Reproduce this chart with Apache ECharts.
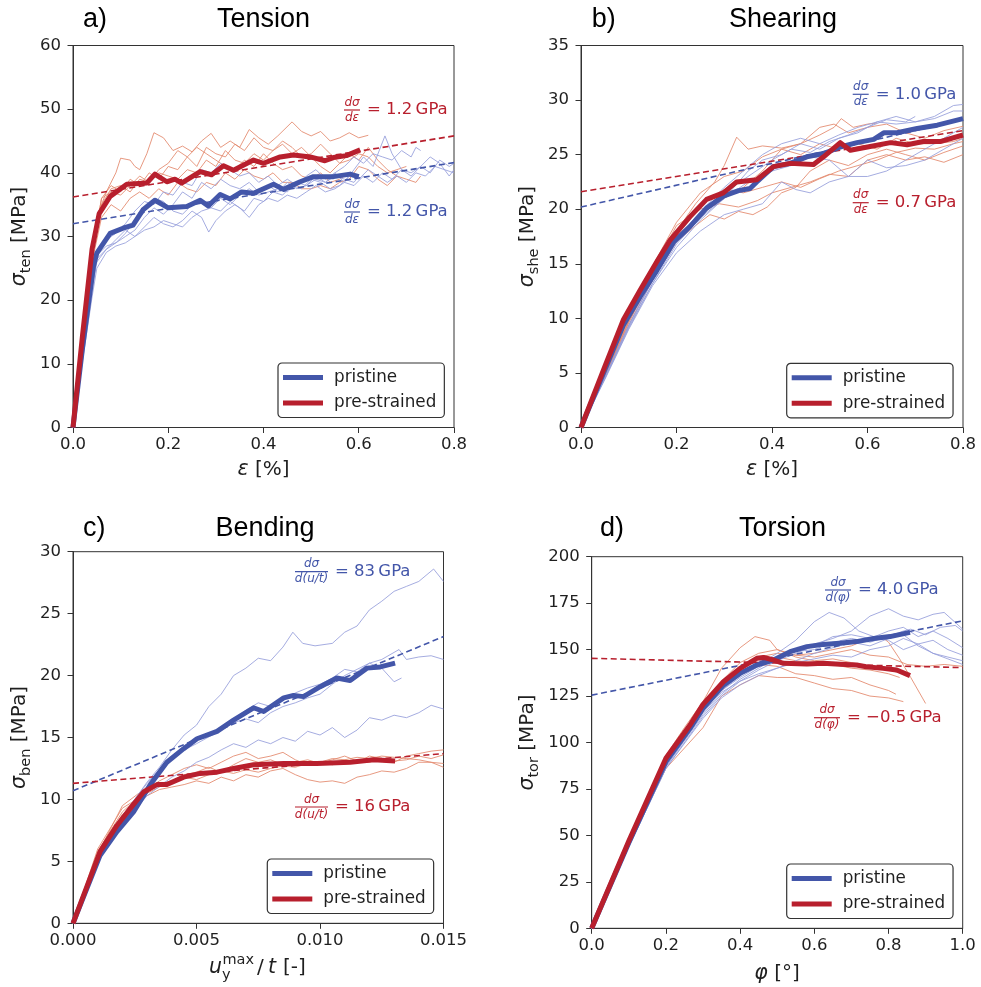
<!DOCTYPE html>
<html>
<head>
<meta charset="utf-8">
<script src="https://cdn.jsdelivr.net/npm/echarts@6/dist/echarts.min.js"></script>
<style>
html, body { margin: 0; padding: 0; background: #fff; }
#chart { width: 981px; height: 987px; }
</style>
</head>
<body>
<div id="chart"></div>
<script>
// ---------- measured curves: [abscissa, stress in MPa] ----------

// a) Tension, strain in %
const tensionPristineRuns = [
  [[0,0],[0.02,12],[0.04,23],[0.05,27.5],[0.07,29.5],[0.09,30.5],[0.11,32],[0.13,34],[0.15,35.5],[0.17,35],[0.19,37],[0.21,36.5],[0.23,38.5],[0.25,38],[0.27,40.5],[0.29,40],[0.31,41.5],[0.33,40.5],[0.35,39.5],[0.37,40],[0.39,38.5],[0.41,39.5],[0.43,38],[0.45,39],[0.47,38],[0.49,39.5],[0.51,40.5],[0.53,39],[0.55,40],[0.57,38.5],[0.59,40.5],[0.61,42.5],[0.63,41],[0.655,45.8],[0.67,43],[0.69,40.5],[0.71,39.5],[0.73,41],[0.75,40],[0.77,42],[0.79,41],[0.8,41.5]],
  [[0,0],[0.02,11.5],[0.04,22.5],[0.05,27],[0.07,28.5],[0.09,29],[0.11,30],[0.13,31],[0.15,33],[0.17,34.5],[0.19,33.5],[0.21,35],[0.23,37],[0.25,36],[0.27,38.5],[0.29,37.5],[0.31,39],[0.33,38],[0.35,37.5],[0.37,38.5],[0.39,37],[0.41,38],[0.43,37],[0.45,38.5],[0.47,37.5],[0.49,38],[0.51,39.5],[0.53,38.5],[0.55,40],[0.57,41],[0.59,42.5],[0.61,41.5],[0.63,43],[0.65,42.5],[0.67,42],[0.69,43.5],[0.71,42.5],[0.72,44],[0.73,43.5]],
  [[0,0],[0.02,11],[0.04,21.5],[0.05,26],[0.07,28],[0.09,29.5],[0.11,31],[0.13,30],[0.15,31.5],[0.17,33],[0.19,32],[0.21,31.5],[0.23,32.5],[0.25,34],[0.27,33],[0.285,30.7],[0.3,32.5],[0.32,34],[0.34,35],[0.36,34],[0.38,36],[0.4,35.5],[0.42,37],[0.44,36.5],[0.46,38],[0.48,37.5],[0.5,39],[0.52,38.5],[0.54,37.5],[0.56,38],[0.58,39.5],[0.6,39],[0.62,40.5],[0.64,39.5],[0.66,38.5],[0.68,39.5],[0.7,38.5],[0.72,40],[0.74,39.5],[0.76,41],[0.78,40.5],[0.8,40]],
  [[0,0],[0.02,10.5],[0.04,20.5],[0.05,25],[0.07,27.5],[0.09,28.5],[0.11,29],[0.13,30],[0.15,31],[0.17,31.5],[0.19,32.5],[0.21,32],[0.23,31.5],[0.25,33],[0.27,34],[0.29,34.5],[0.31,34],[0.33,35.5],[0.35,34.5],[0.37,33],[0.39,35],[0.41,36],[0.43,35.5],[0.45,36.5],[0.47,36],[0.49,37],[0.51,38],[0.53,37],[0.55,37.5],[0.57,38.5],[0.59,38],[0.61,39.5],[0.63,38.5],[0.65,40],[0.67,39],[0.69,40.5],[0.71,40],[0.73,41],[0.75,42.5],[0.77,41.5],[0.79,39.5],[0.8,40.5]],
  [[0,0],[0.02,11],[0.04,22],[0.05,26.5],[0.07,28],[0.09,29],[0.11,30.5],[0.13,32.5],[0.15,34],[0.17,36],[0.19,35.5],[0.21,34],[0.23,33.5],[0.25,35],[0.27,35.5],[0.29,34.5],[0.31,36],[0.33,35],[0.35,36.5],[0.37,37.5],[0.39,36.5],[0.41,37],[0.43,37.5],[0.45,37],[0.47,38.5],[0.49,38],[0.51,39],[0.53,38.5],[0.55,39.5],[0.57,39],[0.59,38.5],[0.6,39.5]]
];
const tensionPrestrainedRuns = [
  [[0,0],[0.02,14],[0.04,27],[0.05,33],[0.07,37],[0.09,40],[0.1,42.3],[0.12,42],[0.13,41],[0.14,40.5],[0.155,43],[0.17,46.3],[0.19,45.5],[0.21,43.5],[0.23,44.2],[0.25,43.3],[0.27,45],[0.29,46.2],[0.31,44],[0.33,45],[0.35,44],[0.37,46.8],[0.39,45.5],[0.41,44.5],[0.43,45.8],[0.46,48],[0.48,46.5],[0.5,45.8],[0.52,46.5],[0.54,45],[0.56,45.5],[0.58,46.3],[0.6,45.5],[0.62,45.9]],
  [[0,0],[0.02,14],[0.04,27.5],[0.06,36],[0.08,38],[0.1,37],[0.12,39],[0.14,38],[0.16,40],[0.18,39],[0.2,41],[0.22,40.5],[0.24,42.5],[0.26,41],[0.28,44],[0.3,43],[0.32,42.5],[0.34,44.5],[0.36,43.5],[0.38,45.5],[0.4,44],[0.42,43.5],[0.44,45],[0.46,44],[0.48,42.5],[0.5,43],[0.52,44.5],[0.54,43],[0.56,41.5],[0.58,42],[0.6,43],[0.62,42.5],[0.64,41],[0.66,40],[0.68,40.5],[0.7,41]],
  [[0,0],[0.02,13.5],[0.04,26],[0.06,33],[0.08,35],[0.1,34],[0.12,36],[0.14,37],[0.16,36],[0.18,37.5],[0.2,36.5],[0.22,38.5],[0.24,37.5],[0.26,37],[0.28,38.5],[0.3,38],[0.32,40],[0.34,39],[0.36,40.5],[0.38,39.5],[0.4,39],[0.42,40],[0.44,38.5],[0.46,38.5],[0.48,37.5],[0.5,37.5],[0.52,38],[0.54,37.5],[0.56,38.5],[0.58,39],[0.6,41],[0.62,40.5],[0.64,39],[0.66,38],[0.68,39.5],[0.7,39],[0.72,38.5],[0.73,39.5]],
  [[0,0],[0.02,14],[0.04,27],[0.06,35],[0.08,37.5],[0.1,38],[0.12,37],[0.14,39],[0.16,38.5],[0.18,40],[0.2,39.5],[0.22,39],[0.24,40.5],[0.26,40],[0.28,42],[0.3,41],[0.32,43.5],[0.34,42],[0.36,41.5],[0.38,43],[0.4,42],[0.42,43.5],[0.44,44.5],[0.46,43],[0.48,44],[0.5,42.5],[0.52,41],[0.54,40],[0.56,41.5],[0.58,43],[0.6,42],[0.62,44],[0.64,42],[0.66,40.5],[0.68,39.5]],
  [[0,0],[0.02,14],[0.04,27.5],[0.06,36],[0.08,37],[0.1,36.5],[0.12,38],[0.14,39.5],[0.16,38.5],[0.18,40.5],[0.2,41.5],[0.22,43.5],[0.24,42.5],[0.26,44],[0.28,43],[0.3,42],[0.32,41],[0.34,40.5],[0.36,42],[0.38,41],[0.4,43],[0.42,41.5],[0.44,40.5],[0.46,41],[0.48,39.5],[0.5,39],[0.52,40],[0.54,38.5],[0.56,39],[0.58,40],[0.6,39.5]]
];
const tensionPristineMean = [[0,0],[0.02,12.5],[0.043,25.3],[0.05,27.4],[0.078,30.5],[0.105,31.3],[0.126,31.8],[0.147,34.2],[0.172,35.7],[0.2,34.5],[0.239,34.7],[0.267,35.7],[0.284,34.8],[0.309,36.6],[0.33,35.9],[0.354,37.0],[0.379,36.8],[0.421,38.2],[0.442,37.4],[0.477,38.6],[0.505,39.4],[0.547,39.4],[0.582,39.8],[0.6,39.4]];
const tensionPrestrainedMean = [[0,0],[0.02,14.5],[0.04,28],[0.055,33.6],[0.078,36.3],[0.113,38.2],[0.155,38.4],[0.172,39.8],[0.197,38.6],[0.214,39.0],[0.228,38.4],[0.267,40.2],[0.291,39.7],[0.316,41.1],[0.337,40.4],[0.379,42.0],[0.4,41.5],[0.435,42.5],[0.463,42.8],[0.498,42.5],[0.529,41.9],[0.547,42.4],[0.574,42.7],[0.603,43.6]];

// b) Shearing, strain in %
const shearPristineRuns = [
  [[0,0],[0.05,4.5],[0.1,9.2],[0.15,13.2],[0.2,16.5],[0.25,19],[0.3,21],[0.35,23.5],[0.38,24.5],[0.42,25],[0.46,26],[0.5,25.5],[0.54,26.5],[0.58,27],[0.62,28],[0.66,27.8],[0.7,28],[0.74,28.5],[0.78,29.5],[0.8,29.6]],
  [[0,0],[0.05,4.6],[0.1,9.3],[0.15,13.5],[0.2,17],[0.25,19.5],[0.3,21.5],[0.35,23],[0.4,24.5],[0.44,25.5],[0.48,25.2],[0.52,26.2],[0.56,26.8],[0.6,27.5],[0.64,28.2],[0.68,28],[0.7,28.5]],
  [[0,0],[0.05,4.4],[0.1,9],[0.15,13],[0.2,16],[0.25,18],[0.3,19.5],[0.34,20],[0.38,20.5],[0.42,22.5],[0.45,21.8],[0.48,21.5],[0.52,22.5],[0.56,23],[0.6,24.5],[0.64,23.8],[0.68,24],[0.72,24.5],[0.76,25.5],[0.8,26.5]],
  [[0,0],[0.05,4.5],[0.1,9.1],[0.15,13.2],[0.2,16.8],[0.25,19.2],[0.3,21],[0.35,22.5],[0.4,23.5],[0.44,24],[0.48,24.8],[0.52,24.5],[0.56,23],[0.6,23],[0.64,23.5],[0.68,24.5],[0.72,25.5],[0.76,26.5],[0.8,27.5]],
  [[0,0],[0.05,4.6],[0.1,9.4],[0.15,13.6],[0.2,17.2],[0.25,19.8],[0.3,22],[0.34,23.5],[0.38,25],[0.42,26],[0.46,26.5],[0.5,26],[0.54,26.8],[0.58,27.5],[0.62,28],[0.66,28.5],[0.7,28],[0.74,28.3],[0.78,29],[0.8,29]]
];
const shearPrestrainedRuns = [
  [[0,0],[0.05,4.8],[0.1,9.8],[0.15,14],[0.2,18],[0.24,20.5],[0.28,22.5],[0.3,24],[0.326,26.6],[0.35,25.5],[0.38,25.8],[0.42,25.6],[0.46,26],[0.5,26.8],[0.53,27.5],[0.545,28.3],[0.57,27.5],[0.6,27.8],[0.62,27.9]],
  [[0,0],[0.05,4.7],[0.1,9.6],[0.15,13.8],[0.2,17.5],[0.25,19.5],[0.3,21],[0.34,22],[0.38,23.5],[0.42,25.5],[0.46,26],[0.5,27.5],[0.53,27.8],[0.56,27],[0.6,27.5],[0.64,27.8],[0.68,27],[0.72,26.5],[0.76,27.2],[0.8,27.6]],
  [[0,0],[0.05,4.6],[0.1,9.4],[0.15,13.5],[0.2,17],[0.24,18.5],[0.27,19.5],[0.3,19.1],[0.33,19.8],[0.36,19.5],[0.39,20.2],[0.42,21.5],[0.45,22],[0.48,23.5],[0.52,24.5],[0.56,24],[0.6,25],[0.64,25.5],[0.68,25],[0.72,24.5],[0.76,25.2],[0.8,25.8]],
  [[0,0],[0.05,4.8],[0.1,10],[0.15,14.5],[0.2,18.5],[0.25,20],[0.29,20.5],[0.33,20.2],[0.37,20.8],[0.4,21.5],[0.44,22],[0.48,22.5],[0.52,23.2],[0.56,23],[0.6,24.5],[0.64,25],[0.68,24.5],[0.72,24.8],[0.76,24.3],[0.8,25]],
  [[0,0],[0.05,4.9],[0.1,10.2],[0.15,14.8],[0.2,18.8],[0.25,21.5],[0.3,23],[0.34,23.5],[0.38,24.8],[0.42,25.5],[0.46,25],[0.5,26],[0.54,25.5],[0.58,26],[0.62,25.5],[0.66,26.5],[0.7,26],[0.74,26],[0.78,26.2],[0.8,26.5]],
  [[0,0],[0.05,4.7],[0.1,9.7],[0.15,14],[0.2,17.8],[0.25,20.5],[0.3,21.8],[0.34,21.5],[0.38,22],[0.42,22.5],[0.46,22],[0.5,22.8],[0.54,23.5],[0.58,24],[0.62,24.5],[0.66,25.2],[0.7,25.6],[0.74,25.5],[0.78,26],[0.8,26.2]]
];
const shearPristineMean = [[0,0],[0.05,5.3],[0.089,9.4],[0.124,12.0],[0.159,14.4],[0.194,17.0],[0.228,18.4],[0.263,20.1],[0.298,21.2],[0.33,21.7],[0.354,21.9],[0.368,22.5],[0.403,23.9],[0.438,24.2],[0.473,24.8],[0.508,25.1],[0.543,25.7],[0.578,26.1],[0.613,26.4],[0.634,27.0],[0.662,27.0],[0.704,27.4],[0.746,27.7],[0.8,28.3]];
const shearPrestrainedMean = [[0,0],[0.05,5.6],[0.089,9.9],[0.124,12.6],[0.159,15.2],[0.187,17.2],[0.228,19.3],[0.263,20.9],[0.298,21.5],[0.326,22.5],[0.368,22.7],[0.403,23.9],[0.438,24.2],[0.487,24.1],[0.508,24.8],[0.543,26.1],[0.564,25.4],[0.6,25.7],[0.648,26.1],[0.683,25.9],[0.717,26.2],[0.752,26.2],[0.8,26.8]];

// c) Bending, normalised deflection u_y^max / t
const bendingPristineRuns = [
  [[0,0],[0.001,5.3],[0.002,8.6],[0.003,11.4],[0.0035,12.6],[0.004,14],[0.0045,15.2],[0.005,16],[0.0055,17.5],[0.006,18.5],[0.0065,20],[0.007,20.6],[0.0075,21.4],[0.008,21.2],[0.0085,22.3],[0.0089,23.5],[0.0093,22.6],[0.0098,22.4],[0.0105,22.6],[0.011,23.5],[0.0115,24],[0.012,25.3],[0.0125,26],[0.013,26.8],[0.0135,27.2],[0.014,27.6],[0.0146,28.6],[0.015,27.6]],
  [[0,0],[0.001,5.2],[0.002,8.3],[0.003,11],[0.004,13.3],[0.005,14.8],[0.006,15.8],[0.0065,16.5],[0.007,17.2],[0.0075,17.8],[0.008,17.5],[0.0085,18],[0.009,18.6],[0.0095,19],[0.01,19.3],[0.0105,19.8],[0.011,20.5],[0.0115,20.3],[0.012,21],[0.0125,21.3],[0.0132,22.1],[0.0135,21.3],[0.014,21.5],[0.0145,21.6],[0.015,21.3]],
  [[0,0],[0.001,5.4],[0.002,8.7],[0.003,11.3],[0.004,13.5],[0.005,14.5],[0.006,15.6],[0.0065,16.2],[0.007,16.5],[0.0075,16.2],[0.008,17],[0.0085,17.5],[0.009,17.8],[0.0095,18.2],[0.01,18.5],[0.0105,19.3],[0.011,20],[0.0115,20.5],[0.012,21],[0.0125,20.6],[0.013,19.5],[0.0133,19.8]],
  [[0,0],[0.001,5],[0.002,8],[0.003,10.3],[0.004,11.8],[0.0045,12.3],[0.005,13],[0.0055,13.4],[0.006,14],[0.0065,14.5],[0.007,14.2],[0.0075,14.8],[0.008,14.5],[0.0085,15],[0.009,14.7],[0.0095,15.5],[0.01,15.2],[0.0105,15.8],[0.011,15],[0.0115,15.6],[0.012,16.6],[0.0125,16.4],[0.013,16.8],[0.0135,16.6],[0.014,17],[0.0145,17.6],[0.015,17.3]]
];
const bendingPrestrainedRuns = [
  [[0,0],[0.001,5.8],[0.002,9],[0.003,10.8],[0.0035,11.5],[0.004,12],[0.0045,12.5],[0.005,12.8],[0.0055,12.5],[0.006,13],[0.0065,13.5],[0.007,13.8],[0.0075,13.3],[0.008,13.5],[0.0085,13.8],[0.009,13.2],[0.0095,12.8],[0.01,13],[0.0105,13.3],[0.011,13.2],[0.0115,13],[0.012,13.5],[0.0125,13.3],[0.013,13],[0.0135,13.5],[0.014,13.7],[0.0145,13.9],[0.015,14]],
  [[0,0],[0.001,6],[0.002,9.3],[0.003,10.5],[0.0035,11],[0.004,11.5],[0.0045,12],[0.005,12.2],[0.0055,12.6],[0.006,12.2],[0.0065,12.8],[0.007,13.3],[0.0075,13],[0.008,13.2],[0.0085,12.8],[0.009,13],[0.0095,13.2],[0.01,12.9],[0.0105,13.2],[0.011,13.5],[0.0115,13.1],[0.012,13],[0.0125,13.3],[0.013,13.1],[0.0135,13.2],[0.014,13.5],[0.0145,13.3],[0.015,13.6]],
  [[0,0],[0.001,5.5],[0.002,8.8],[0.003,10.3],[0.0035,10.8],[0.004,11],[0.0045,11.2],[0.005,11.5],[0.0055,11.3],[0.006,11.8],[0.0065,11.5],[0.007,12],[0.0075,11.8],[0.008,12.3],[0.0085,12.5],[0.009,12],[0.0095,11.6],[0.01,11.4],[0.0105,11.5],[0.011,11.3],[0.0115,11.8],[0.012,12],[0.0125,12.3],[0.013,12.2],[0.0135,12.5],[0.014,13],[0.0145,13],[0.015,12.6]],
  [[0,0],[0.001,5.6],[0.002,9.5],[0.003,11],[0.0035,11.3],[0.004,11.5],[0.0045,11.8],[0.005,11.6],[0.0055,12],[0.006,12.3],[0.0065,12.1],[0.007,12.4],[0.0075,12.2],[0.008,12.5],[0.0085,12.7],[0.009,12.6],[0.0095,12.9],[0.01,13],[0.0105,12.8],[0.011,13.2],[0.0115,13.4],[0.012,13.3],[0.0125,13.5],[0.013,13.4],[0.0135,13.3],[0.014,13.2],[0.0145,13],[0.015,12.9]]
];
const bendingPristineMean = [[0,0],[0.0011,5.5],[0.00178,7.4],[0.00245,9.0],[0.00313,11.2],[0.0038,13.0],[0.00448,14.1],[0.00502,14.9],[0.00583,15.5],[0.0065,16.4],[0.00731,17.4],[0.00772,17.1],[0.00853,18.2],[0.00893,18.4],[0.00933,18.3],[0.01001,19.1],[0.01068,19.8],[0.01122,19.6],[0.0119,20.6],[0.01244,20.7],[0.01304,21.0]];
const bendingPrestrainedMean = [[0,0],[0.0011,5.8],[0.00178,7.9],[0.00245,9.6],[0.00286,10.6],[0.0034,11.2],[0.0038,11.2],[0.00448,11.8],[0.00515,12.1],[0.00583,12.2],[0.0065,12.5],[0.00731,12.8],[0.00853,12.9],[0.00987,12.9],[0.01122,13.0],[0.01217,13.2],[0.01304,13.1]];

// d) Torsion, twist angle in degrees
const torsionPristineRuns = [
  [[0,0],[0.1,45],[0.2,88],[0.3,117],[0.35,128],[0.4,136],[0.45,142],[0.5,148],[0.55,155],[0.6,165],[0.64,170],[0.68,167],[0.72,160],[0.76,157],[0.8,155],[0.84,150],[0.88,153],[0.92,148],[0.96,145],[1.0,142]],
  [[0,0],[0.1,45],[0.2,87],[0.3,115],[0.35,126],[0.4,134],[0.45,140],[0.5,146],[0.55,150],[0.6,153],[0.65,156],[0.7,160],[0.75,168],[0.8,172],[0.84,168],[0.88,166],[0.92,169],[0.95,170],[1.0,161]],
  [[0,0],[0.1,44],[0.2,86],[0.3,114],[0.35,125],[0.4,133],[0.45,139],[0.5,144],[0.55,148],[0.6,152],[0.65,157],[0.7,158],[0.75,156],[0.8,160],[0.84,162],[0.88,157],[0.92,160],[0.96,156],[1.0,151]],
  [[0,0],[0.1,45],[0.2,87],[0.3,116],[0.35,127],[0.4,133],[0.45,137],[0.5,140],[0.55,143],[0.6,145],[0.65,147],[0.7,146],[0.75,150],[0.8,152],[0.84,156],[0.88,153],[0.92,155],[0.96,150],[1.0,147]],
  [[0,0],[0.1,44],[0.2,86],[0.3,113],[0.35,124],[0.4,131],[0.45,136],[0.5,140],[0.55,144],[0.6,148],[0.65,151],[0.7,154],[0.75,152],[0.8,156],[0.84,158],[0.88,152],[0.92,148],[0.96,146],[1.0,144]],
  [[0,0],[0.1,45],[0.2,88],[0.3,117],[0.35,128],[0.4,135],[0.45,141],[0.5,146],[0.55,149],[0.6,150],[0.65,154],[0.7,156],[0.75,154],[0.8,157],[0.84,160],[0.86,161],[0.9,158],[0.94,162],[0.98,163],[1.0,160]]
];
const torsionPrestrainedRuns = [
  [[0,0],[0.1,48],[0.2,93],[0.25,108],[0.3,122],[0.35,140],[0.4,151],[0.44,157],[0.48,155],[0.5,150],[0.55,147],[0.6,148],[0.65,150],[0.7,152],[0.75,156],[0.78,157],[0.8,154],[0.83,145],[0.86,135],[0.9,121]],
  [[0,0],[0.1,45],[0.2,86],[0.3,108],[0.35,125],[0.4,131],[0.45,136],[0.5,135],[0.55,135],[0.6,132],[0.65,129],[0.7,128],[0.75,125],[0.8,124],[0.84,122]],
  [[0,0],[0.1,47],[0.2,92],[0.3,121],[0.35,133],[0.4,143],[0.45,148],[0.5,150],[0.55,146],[0.6,144],[0.65,145],[0.7,143],[0.75,141],[0.8,139],[0.84,137]],
  [[0,0],[0.1,46],[0.2,90],[0.3,118],[0.35,130],[0.4,138],[0.45,142],[0.5,141],[0.55,137],[0.6,136],[0.65,134],[0.7,135],[0.75,131],[0.8,128],[0.82,126]],
  [[0,0],[0.1,47],[0.2,91],[0.3,120],[0.35,132],[0.4,140],[0.45,146],[0.5,148],[0.55,147],[0.6,146],[0.65,148],[0.7,150],[0.75,147],[0.8,146],[0.85,142],[0.9,141],[0.95,142],[1.0,141]],
  [[0,0],[0.1,46],[0.2,89],[0.3,117],[0.35,128],[0.4,137],[0.45,143],[0.5,146],[0.55,144],[0.6,143],[0.65,142],[0.7,140],[0.75,139],[0.8,137],[0.83,135]]
];
const torsionPristineMean = [[0,0],[0.1,46],[0.2,89.7],[0.265,107.6],[0.3,118.4],[0.355,130.9],[0.4,137.2],[0.445,141.7],[0.49,144.4],[0.535,148.9],[0.58,151.6],[0.624,152.8],[0.669,153.4],[0.714,154.3],[0.76,156],[0.804,157],[0.858,159.3]];
const torsionPrestrainedMean = [[0,0],[0.1,47],[0.2,91.5],[0.265,109.4],[0.3,120.5],[0.355,132.7],[0.4,139.9],[0.445,145.3],[0.463,145.8],[0.49,144.4],[0.517,142.6],[0.58,142.2],[0.624,142.6],[0.669,142.1],[0.714,141.7],[0.74,140.8],[0.786,139.9],[0.822,139],[0.858,136]];

// linear fits of the hardening branch: [pristine, pre-strained]
const tensionFitIntercepts = [32.0, 36.2];
const tensionFitSlopesGPa = [1.2, 1.2];
const shearFitIntercepts = [20.2, 21.6];
const shearFitSlopesGPa = [1.0, 0.7];
const bendingFitIntercepts = [10.7, 11.3];
const bendingFitSlopesGPa = [83, 16];
const torsionFitIntercepts = [125.5, 145.3];
const torsionFitSlopesGPa = [4.0, -0.5];

// axis ranges and ticks: [min, max, interval]
const tensionXTicks = [0, 0.8, 0.2], tensionYTicks = [0, 60, 10];
const shearXTicks = [0, 0.8, 0.2], shearYTicks = [0, 35, 5];
const bendingXTicks = [0, 0.015, 0.005], bendingYTicks = [0, 30, 5];
const torsionXTicks = [0, 1.0, 0.2], torsionYTicks = [0, 200, 25];

const seriesNames = ['pristine', 'pre-strained'];

// ---------- styling ----------
const SANS = "'DejaVu Sans', 'Noto Sans', sans-serif";
const HEAD = "'Liberation Sans', Arial, sans-serif";
const INK = '#1f1f1f';
const BLUE = '#4356a9', RED = '#b81f2d';
const BLUE_THIN = '#959ddb', RED_THIN = '#e3876b';

// slopes are quoted in GPa per percent of the abscissa -> MPa per abscissa unit
const GPA_TO_MPA_PER_UNIT = 10;

const panels = [
  { grid: { left: 73, top: 45.5, width: 381, height: 382 }, xt: tensionXTicks, yt: tensionYTicks, xDec: 1,
    runs: [tensionPristineRuns, tensionPrestrainedRuns], means: [tensionPristineMean, tensionPrestrainedMean],
    b: tensionFitIntercepts, s: tensionFitSlopesGPa, sDec: 1,
    legend: { left: 278, top: 363 } },
  { grid: { left: 581, top: 45.5, width: 382, height: 382 }, xt: shearXTicks, yt: shearYTicks, xDec: 1,
    runs: [shearPristineRuns, shearPrestrainedRuns], means: [shearPristineMean, shearPrestrainedMean],
    b: shearFitIntercepts, s: shearFitSlopesGPa, sDec: 1,
    legend: { left: 786.7, top: 363.3 } },
  { grid: { left: 73, top: 551.7, width: 370.5, height: 371.6 }, xt: bendingXTicks, yt: bendingYTicks, xDec: 3,
    runs: [bendingPristineRuns, bendingPrestrainedRuns], means: [bendingPristineMean, bendingPrestrainedMean],
    b: bendingFitIntercepts, s: bendingFitSlopesGPa, sDec: 0,
    legend: { left: 267.3, top: 859 } },
  { grid: { left: 591.7, top: 556.7, width: 371, height: 371.6 }, xt: torsionXTicks, yt: torsionYTicks, xDec: 1,
    runs: [torsionPristineRuns, torsionPrestrainedRuns], means: [torsionPristineMean, torsionPrestrainedMean],
    b: torsionFitIntercepts, s: torsionFitSlopesGPa, sDec: 1,
    legend: { left: 786.7, top: 864 } }
];

const grids = [], xAxes = [], yAxes = [], series = [], legends = [];

function axisCommon(gi, ticks, dec, isX) {
  return {
    type: 'value', gridIndex: gi, min: ticks[0], max: ticks[1], interval: ticks[2],
    axisLine: { show: true, onZero: false, lineStyle: { color: '#333', width: 1 } },
    axisTick: { show: true, length: 5.5, lineStyle: { color: '#333', width: 1 } },
    splitLine: { show: false },
    axisLabel: {
      fontFamily: SANS, fontSize: 16.5, color: INK, margin: isX ? 9 : 12,
      formatter: v => (dec != null ? v.toFixed(dec) : String(v))
    }
  };
}

panels.forEach((p, gi) => {
  grids.push(Object.assign({ show: true, borderColor: '#333', borderWidth: 1, backgroundColor: 'transparent', containLabel: false }, p.grid));
  xAxes.push(axisCommon(gi, p.xt, p.xDec, true));
  yAxes.push(axisCommon(gi, p.yt, null, false));

  const base = { type: 'line', xAxisIndex: gi, yAxisIndex: gi, showSymbol: false, symbol: 'none', silent: true, animation: false };
  // individual specimens
  p.runs[1].forEach(r => series.push(Object.assign({}, base, { name: 'specimen', data: r, z: 2, lineStyle: { color: RED_THIN, width: 1, opacity: 0.85 }, itemStyle: { color: RED_THIN } })));
  p.runs[0].forEach(r => series.push(Object.assign({}, base, { name: 'specimen', data: r, z: 2, lineStyle: { color: BLUE_THIN, width: 1, opacity: 0.85 }, itemStyle: { color: BLUE_THIN } })));
  // linear fits
  const xMax = p.xt[1];
  [0, 1].forEach(k => {
    const c = k === 0 ? BLUE : RED;
    const y0 = p.b[k], y1 = p.b[k] + p.s[k] * GPA_TO_MPA_PER_UNIT * xMax;
    series.push(Object.assign({}, base, { name: 'fit', data: [[0, y0], [xMax, y1]], z: 3, lineStyle: { color: c, width: 1.6, type: [6, 3.5] }, itemStyle: { color: c } }));
  });
  // group means
  [0, 1].forEach(k => {
    const c = k === 0 ? BLUE : RED;
    series.push(Object.assign({}, base, { name: seriesNames[k], data: p.means[k], z: 4, lineStyle: { color: c, width: 5, cap: 'butt', join: 'round' }, itemStyle: { color: c } }));
  });

  legends.push({
    data: seriesNames, orient: 'vertical', left: p.legend.left, top: p.legend.top,
    icon: 'rect', itemWidth: 40, itemHeight: 5, itemGap: 8.5, selectedMode: false,
    padding: [6, 8, 6, 5], borderColor: '#333', borderWidth: 1.2, borderRadius: 4, backgroundColor: '#fff',
    textStyle: { fontFamily: SANS, fontSize: 16.8, color: INK, padding: [0, 0, 0, 6] }
  });
});

// ---------- text: titles, axis names, slope notes ----------
const graphics = [];
function text(x, y, str, font, opts) {
  const st = Object.assign({ text: str, font: font, fill: INK, textAlign: 'left', textVerticalAlign: 'middle', align: 'left', verticalAlign: 'middle' }, opts || {});
  if (st.textAlign) st.align = st.textAlign;
  if (st.textVerticalAlign) st.verticalAlign = st.textVerticalAlign;
  return { type: 'text', x: x, y: y, silent: true, z: 10, style: st };
}

// panel titles
[[83, 20, 'a)', 263.5, 'Tension'], [591.7, 20, 'b)', 783, 'Shearing'],
 [83, 529, 'c)', 265, 'Bending'], [600, 529, 'd)', 782.5, 'Torsion']].forEach(t => {
  graphics.push(text(t[0], t[1], t[2], '27px ' + HEAD, { fill: '#000' }));
  graphics.push(text(t[3], t[1], t[4], '27px ' + HEAD, { fill: '#000', textAlign: 'center' }));
});

// rotated stress labels with subscript
const yNameRich = {
  m: { fontFamily: SANS, fontSize: 20.5, fontStyle: 'italic', fill: INK, lineHeight: 30 },
  s: { fontFamily: SANS, fontSize: 14.5, fill: INK, verticalAlign: 'bottom', lineHeight: 14, padding: [0, 0, 1, 0] },
  n: { fontFamily: SANS, fontSize: 20, fill: INK, lineHeight: 30 }
};
[[20, 236.5, 'ten'], [528, 236.5, 'she'], [20, 737.5, 'ben'], [528, 742.5, 'tor']].forEach(t => {
  graphics.push({
    type: 'group', x: t[0], y: t[1], rotation: Math.PI / 2, silent: true,
    children: [{ type: 'text', x: 0, y: 0, z: 10, style: { text: '{m|σ}{s|' + t[2] + '}{n| [MPa]}', rich: yNameRich, textAlign: 'center', align: 'center', textVerticalAlign: 'middle', verticalAlign: 'middle' } }]
  });
});

// abscissa labels
const xNameRich = {
  m: { fontFamily: SANS, fontSize: 20.5, fontStyle: 'italic', fill: INK },
  n: { fontFamily: SANS, fontSize: 20, fill: INK }
};
graphics.push(text(263.5, 470, '{m|ε}{n| [%]}', '20px ' + SANS, { rich: xNameRich, textAlign: 'center' }));
graphics.push(text(772, 470, '{m|ε}{n| [%]}', '20px ' + SANS, { rich: xNameRich, textAlign: 'center' }));
graphics.push(text(777, 974, '{m|φ}{n| [°]}', '20px ' + SANS, { rich: xNameRich, textAlign: 'center' }));
// u_y^max / t [-]
graphics.push(text(209, 968, 'u', 'italic 20.5px ' + SANS));
graphics.push(text(222, 975.5, 'y', '14.5px ' + SANS));
graphics.push(text(222.5, 960.5, 'max', '14.5px ' + SANS));
graphics.push(text(257, 968, '/', '20px ' + SANS));
graphics.push(text(268, 968, 't', 'italic 20.5px ' + SANS));
graphics.push(text(283, 968, '[-]', '20px ' + SANS));

// slope notes: fraction d sigma / d x  = value GPa
function slopeNote(x, y, den, w, slope, dec, color) {
  const val = (slope < 0 ? '\u2212' : '') + Math.abs(slope).toFixed(dec);
  graphics.push(text(x + w / 2, y - 1.5, 'dσ', 'italic 12px ' + SANS, { fill: color, textAlign: 'center', textVerticalAlign: 'bottom' }));
  graphics.push({ type: 'line', silent: true, z: 10, shape: { x1: x, y1: y, x2: x + w, y2: y }, style: { stroke: color, lineWidth: 1.2 } });
  graphics.push(text(x + w / 2, y + 1.5, den, 'italic 12px ' + SANS, { fill: color, textAlign: 'center', textVerticalAlign: 'top' }));
  graphics.push(text(x + w + 7, y, '= ' + val + '\u2009GPa', '16.5px ' + SANS, { fill: color }));
}
slopeNote(344, 110, 'dε', 16, tensionFitSlopesGPa[1], 1, RED);
slopeNote(344, 212, 'dε', 16, tensionFitSlopesGPa[0], 1, BLUE);
slopeNote(852.7, 94.3, 'dε', 16, shearFitSlopesGPa[0], 1, BLUE);
slopeNote(852.7, 202.7, 'dε', 16, shearFitSlopesGPa[1], 1, RED);
slopeNote(295, 571.7, 'd(u/t)', 33, bendingFitSlopesGPa[0], 0, BLUE);
slopeNote(295, 807, 'd(u/t)', 33, bendingFitSlopesGPa[1], 0, RED);
slopeNote(825, 590, 'd(φ)', 26, torsionFitSlopesGPa[0], 1, BLUE);
slopeNote(814, 717.7, 'd(φ)', 26, torsionFitSlopesGPa[1], 1, RED);

const chart = echarts.init(document.getElementById('chart'), null, { renderer: 'canvas' });
chart.setOption({
  backgroundColor: '#fff',
  animation: false,
  grid: grids, xAxis: xAxes, yAxis: yAxes, series: series, legend: legends,
  graphic: { elements: graphics }
});
</script>
</body>
</html>
